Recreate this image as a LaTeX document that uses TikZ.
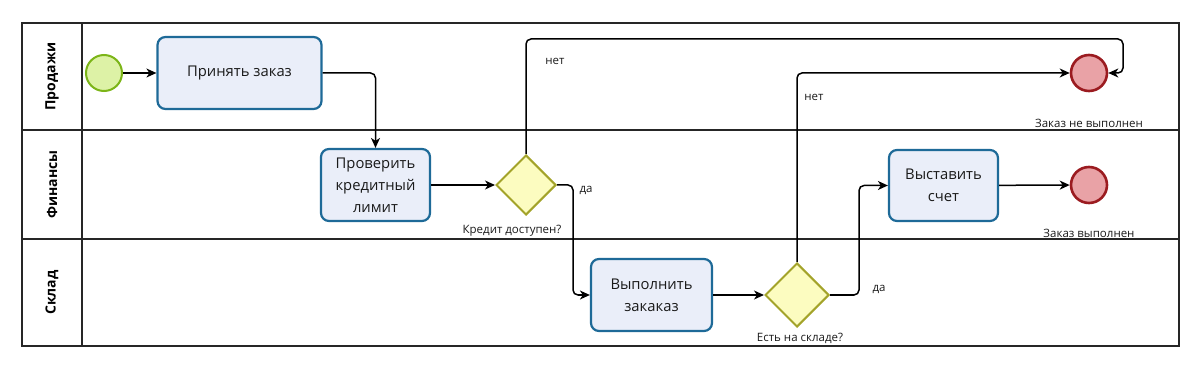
\documentclass[tikz,border=0pt]{standalone}
\usepackage{fontspec}
\setmainfont{Open Sans}
\usetikzlibrary{shapes.geometric,arrows.meta}
\definecolor{startfill}{HTML}{DDF2A6}
\definecolor{startline}{HTML}{7CB518}
\definecolor{taskfill}{HTML}{EAEEF9}
\definecolor{taskline}{HTML}{1E6A98}
\definecolor{gwfill}{HTML}{FCFCC0}
\definecolor{gwline}{HTML}{A3A32A}
\definecolor{endfill}{HTML}{E9A2A6}
\definecolor{endline}{HTML}{9B1B20}
\definecolor{txt}{HTML}{1A1A1A}
\tikzset{
  taskbox/.style={draw=taskline, fill=taskfill, line width=2.2pt, rounded corners=8pt, align=center,
    font=\fontsize{14.8}{22}\selectfont, text=txt, inner sep=2pt},
  startev/.style={circle, draw=startline, fill=startfill, line width=2pt, minimum size=36pt, inner sep=0pt},
  endev/.style={circle, draw=endline, fill=endfill, line width=2.6pt, minimum size=36pt, inner sep=0pt},
  gw/.style={diamond, draw=gwline, fill=gwfill, line width=2pt, inner sep=0pt, aspect=1},
  flow/.style={draw=black, line width=1.5pt, rounded corners=5pt, -{Stealth[length=10pt,width=9pt,inset=3pt]}},
  small/.style={font=\fontsize{11.5}{13}\selectfont, text=txt, inner sep=0pt},
  lanelbl/.style={rotate=90, font=\bfseries\fontsize{14}{16}\selectfont, text=black, inner sep=0pt},
  frame/.style={draw=black!85, line width=1.8pt}
}
\begin{document}
\begin{tikzpicture}[x=1pt,y=-1pt]
\useasboundingbox (0,0) rectangle (1200,366);
% lanes
\draw[frame] (22,23) rectangle (1179,346);
\draw[frame, line width=1.5pt] (82,23) -- (82,346);
\draw[frame, line width=1.5pt] (22,130) -- (1179,130);
\draw[frame, line width=1.5pt] (22,239) -- (1179,239);
\node[lanelbl] (l1) at (52,76.5) {Продажи};
\node[lanelbl] (l2) at (52,184.5) {Финансы};
\node[lanelbl] (l3) at (52,292.5) {Склад};
% nodes
\node[startev] (s) at (104,73) {};
\node[taskbox, minimum width=164pt, minimum height=72pt] (t1) at (239.5,73) {Принять заказ};
\node[taskbox, minimum width=109pt, minimum height=72pt] (t2) at (375.5,185) {Проверить\\кредитный\\лимит};
\node[gw, minimum width=60pt, minimum height=60pt] (g1) at (526,185) {};
\node[taskbox, minimum width=121pt, minimum height=72pt] (t3) at (651.5,295) {Выполнить\\закаказ};
\node[gw, minimum width=64pt, minimum height=64pt] (g2) at (797,295) {};
\node[taskbox, minimum width=109pt, minimum height=71pt] (t4) at (943.5,185.5) {Выставить\\счет};
\node[endev] (e1) at (1089,73) {};
\node[endev] (e2) at (1089,185) {};
\coordinate (c1) at (1123,39);
% labels
\node[small] (n1) at (555,61) {нет};
\node[small] (n2) at (814,97) {нет};
\node[small] (d1) at (586,190) {да};
\node[small] (d2) at (879,289) {да};
\node[small] (q1) at (512,231) {Кредит доступен?};
\node[small] (q2) at (800,338) {Есть на складе?};
\node[small] (x1) at (1089,123) {Заказ не выполнен};
\node[small] (x2) at (1089,233) {Заказ выполнен};
% flows
\draw[flow] (s) -- (t1);
\draw[flow] (t1.east) -| (t2.north);
\draw[flow] (t2) -- (g1);
\draw[flow] (g1.north) |- (c1) |- (e1.east);
\draw[flow] (g1.east) -- ++(16,0) |- (t3.west);
\draw[flow] (t3) -- (g2);
\draw[flow] (g2.north) |- (e1.west);
\draw[flow] (g2.east) -- ++(29,0) |- (t4.west);
\draw[flow] (t4) -- (e2);
\end{tikzpicture}
\end{document}
